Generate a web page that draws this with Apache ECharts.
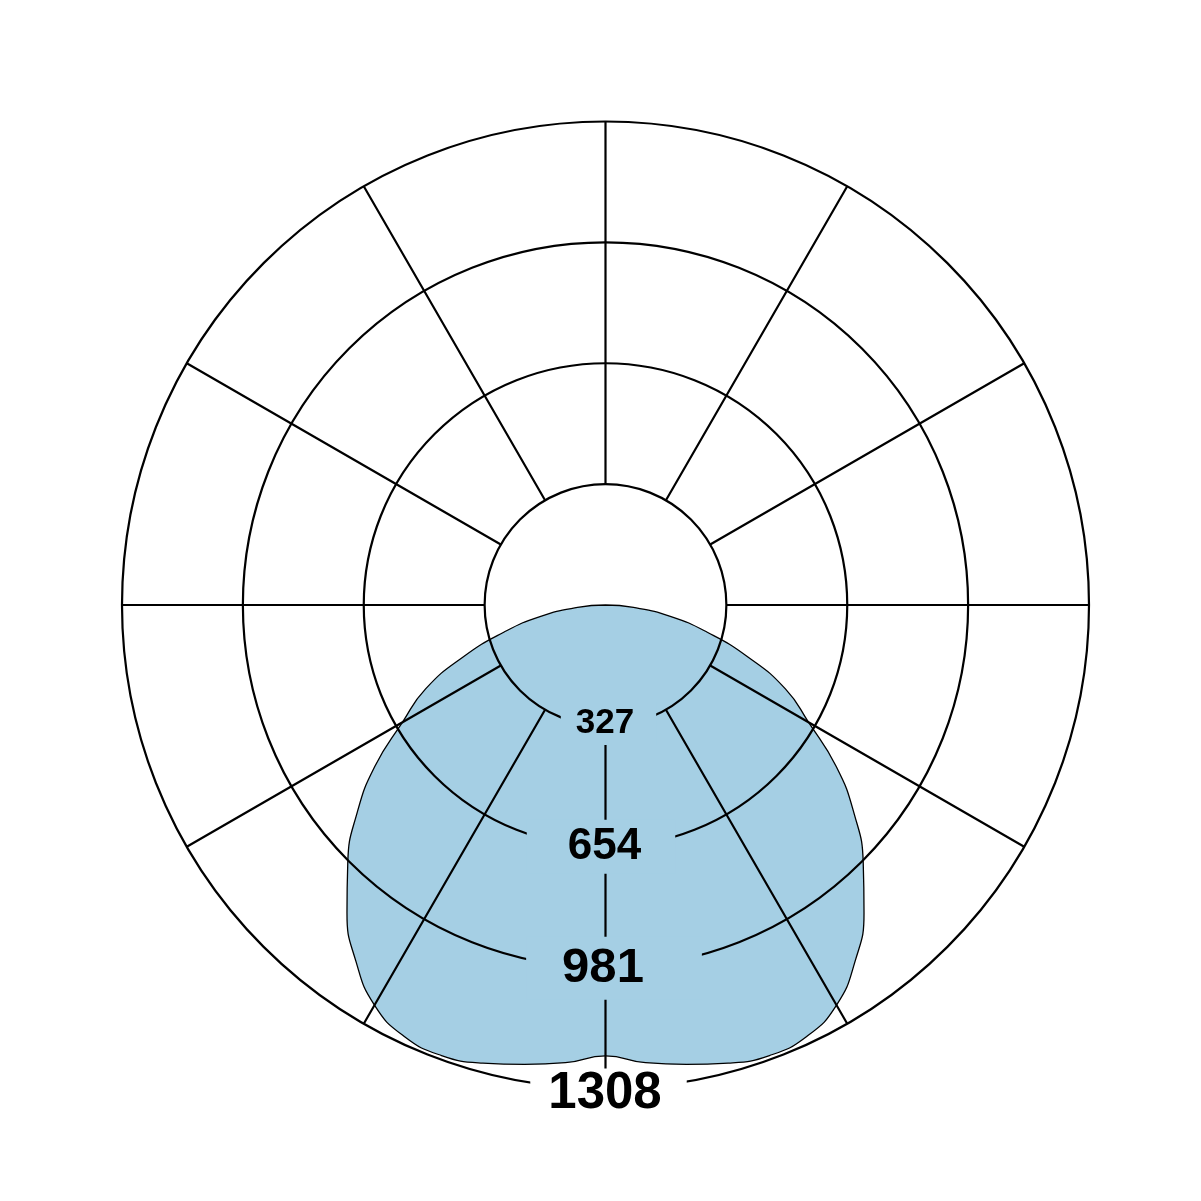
<!DOCTYPE html>
<html>
<head>
<meta charset="utf-8">
<script src="https://cdn.jsdelivr.net/npm/echarts@6/dist/echarts.min.js"></script>
<style>
html,body{margin:0;padding:0;background:#fff;}
#chart{width:1201px;height:1201px;}
</style>
</head>
<body>
<div id="chart"></div>
<script>
// Luminous intensity (cd) vs angle from nadir (degrees)
const angles = [-90,-85,-80,-75,-70,-65,-60,-55,-50,-45,-40,-35,-30,-25,-20,-15,-10,-5,0,5,10,15,20,25,30,35,40,45,50,55,60,65,70,75,80,85,90];
const intensities = [0,76,180,285,409,537,634,762,878,986,1088,1177,1250,1288,1297,1283,1262,1243,1220,1243,1262,1283,1297,1288,1250,1177,1088,986,878,762,634,537,409,285,180,76,0];
// Ring values
const ringValues = [327, 654, 981, 1308];
const radiusMax = 1308;
const angleStep = 30;

const FILL = '#a5cfe4';
const INK = '#000';
const CX = 605.5, CY = 605, R = 483.5;
const R0 = R * ringValues[0] / radiusMax;

// label styles (font size, line height, padding [t,r,b,l], offset, background)
const labelStyles = [
  {fs: 35, lh: 34, pad: [4, 22, 5, 15], off: [3, -2.5], bg: FILL},
  {fs: 44, lh: 44, pad: [6, 34, 4, 41], off: [-4.5, 0], bg: FILL},
  {fs: 49, lh: 49, pad: [8, 58, 6, 36], off: [8.5, 0.5], bg: FILL},
  {fs: 51, lh: 48, pad: [0, 25, 2, 18], off: [3, 5], bg: '#fff'}
];

const curve = angles.map((a, i) => [intensities[i], a]);
const labelData = ringValues.map((v, i) => {
  const s = labelStyles[i];
  return {
    value: [v, 0],
    label: {
      show: true,
      position: 'inside',
      formatter: String(v),
      fontSize: s.fs,
      lineHeight: s.lh,
      fontWeight: 'bold',
      fontFamily: '"Liberation Sans", Arial, Helvetica, sans-serif',
      color: INK,
      opacity: 1,
      backgroundColor: s.bg,
      padding: s.pad,
      offset: s.off
    }
  };
});

const chart = echarts.init(document.getElementById('chart'), null, {renderer: 'canvas'});
chart.setOption({
  backgroundColor: '#fff',
  animation: false,
  polar: [
    {center: [CX, CY], radius: [0, R]},
    {center: [CX, CY], radius: [R0, R]}
  ],
  angleAxis: [
    {
      polarIndex: 0, type: 'value', min: -180, max: 180, startAngle: 90, clockwise: true,
      axisLine: {show: false}, axisTick: {show: false}, axisLabel: {show: false},
      splitLine: {show: false}, z: 3
    },
    {
      polarIndex: 1, type: 'value', min: 0, max: 360, interval: angleStep, startAngle: 270,
      axisLine: {show: false}, axisTick: {show: false}, axisLabel: {show: false},
      splitLine: {show: true, lineStyle: {color: INK, width: 2.2}}, z: 3
    }
  ],
  radiusAxis: [
    {
      polarIndex: 0, type: 'value', min: 0, max: radiusMax, interval: ringValues[0],
      axisLine: {show: false}, axisTick: {show: false}, axisLabel: {show: false},
      splitLine: {show: true, lineStyle: {color: INK, width: 2.2}}, z: 3
    },
    {
      polarIndex: 1, type: 'value', min: ringValues[0], max: radiusMax,
      axisLine: {show: false}, axisTick: {show: false}, axisLabel: {show: false},
      splitLine: {show: false}, z: 3
    }
  ],
  series: [
    {
      type: 'line', coordinateSystem: 'polar', polarIndex: 0,
      data: curve, smooth: 0.5, symbol: 'none', z: 1,
      lineStyle: {color: INK, width: 1.3},
      areaStyle: {color: FILL, opacity: 1}
    },
    {
      type: 'scatter', coordinateSystem: 'polar', polarIndex: 0,
      data: labelData, symbolSize: 0, z: 10, silent: true,
      itemStyle: {opacity: 1}
    }
  ]
});
</script>
</body>
</html>
